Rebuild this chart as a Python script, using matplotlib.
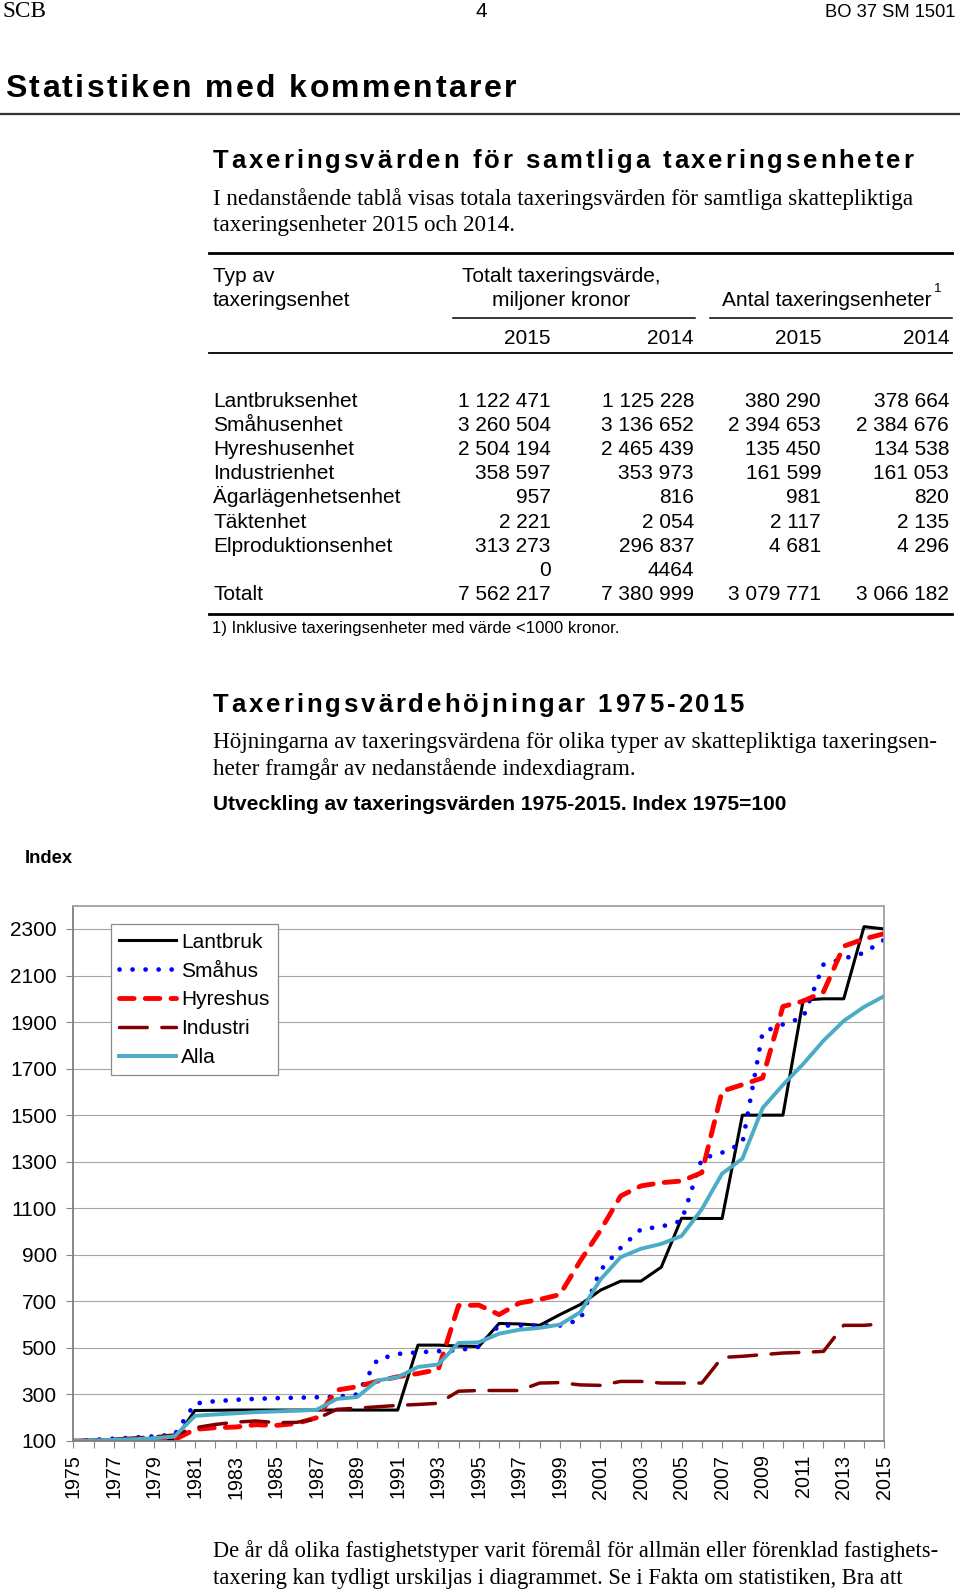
import matplotlib
matplotlib.use('Agg')
import matplotlib.pyplot as plt

plt.rcParams['font.family'] = 'Liberation Sans'

W, H = 960, 1593

# Index 1975=100, values
years = list(range(1975, 2016))
lantbruk = [100, 100, 101, 102, 103, 105,
            231, 232, 233, 233, 233, 233, 233, 233, 233, 233, 233,
            512, 512, 508, 506,
            605, 603, 597, 643, 686,
            748, 787, 787, 847, 1057,
            1056, 1056, 1500, 1500, 1500,
            1995, 2000, 2000, 2310, 2300]
smahus = [100, 105, 110, 115, 120, 128,
          261, 271, 277, 281, 284, 286, 288, 290, 300, 450, 474,
          481, 486, 490, 505,
          596, 596, 596, 596, 621,
          834, 930, 1010, 1021, 1046,
          1313, 1339, 1379, 1857, 1890,
          1920, 2147, 2173, 2197, 2254]
hyreshus = [100, 101, 102, 103, 104, 106,
            150, 157, 160, 170, 167, 175, 200, 319, 333, 357, 376,
            390, 407, 682, 684,
            643, 693, 708, 729, 873,
            1005, 1153, 1196, 1210, 1217,
            1253, 1603, 1631, 1660, 1967,
            1990, 2030, 2226, 2257, 2280]
industri = [100, 104, 108, 113, 118, 126,
            157, 171, 181, 186, 179, 180, 195, 236, 241, 247, 253,
            257, 262, 314, 317,
            317, 317, 349, 351, 341,
            339, 356, 356, 349, 349,
            349, 459, 464, 471, 478,
            481, 485, 597, 597, 604]
alla = [100, 102, 105, 108, 112, 120,
        208, 214, 219, 224, 227, 230, 234, 281, 289, 360, 374,
        418, 429, 521, 524,
        561, 578, 586, 600, 653,
        794, 890, 926, 947, 981,
        1096, 1249, 1313, 1531, 1630,
        1720, 1820, 1905, 1965, 2012]

# table
typer = ["Lantbruksenhet", "Småhusenhet", "Hyreshusenhet", "Industrienhet",
         "Ägarlägenhetsenhet", "Täktenhet", "Elproduktionsenhet", "", "Totalt"]
varde_2015 = ["1 122 471", "3 260 504", "2 504 194", "358 597", "957",
              "2 221", "313 273", "0", "7 562 217"]
varde_2014 = ["1 125 228", "3 136 652", "2 465 439", "353 973", "816",
              "2 054", "296 837", "4464", "7 380 999"]
antal_2015 = ["380 290", "2 394 653", "135 450", "161 599", "981",
              "2 117", "4 681", "", "3 079 771"]
antal_2014 = ["378 664", "2 384 676", "134 538", "161 053", "820",
              "2 135", "4 296", "", "3 066 182"]

fig = plt.figure(figsize=(W / 100, H / 100), dpi=100)
r = fig.canvas.get_renderer()


def txt(x, y, s, size, **kw):
    return fig.text(x / W, 1 - y / H, s, fontsize=size, va='baseline', **kw)


def width(s, size, **kw):
    t = txt(0, 0, s, size, **kw)
    w = t.get_window_extent(r).width
    t.remove()
    return w


def fit(x, y, s, w, size, **kw):
    # pick the font size that gives the measured line width
    t = txt(x, y, s, size, **kw)
    t.set_fontsize(size * w / t.get_window_extent(r).width)
    return t


def spaced(x0, x1, y, s, size):
    # bold heading with wide letter spacing
    base = width('II', size, fontweight='bold')
    adv = [width('I' + c + 'I', size, fontweight='bold') - base for c in s]
    track = (x1 - x0 - sum(adv)) / (len(s) - 1)
    x = x0
    for c, a in zip(s, adv):
        txt(x, y, c, size, fontweight='bold')
        x += a + track


def hline(x0, x1, y, lw, c='black'):
    fig.add_artist(plt.Line2D([x0 / W, x1 / W], [1 - y / H] * 2, color=c, lw=lw))


serif = 'Liberation Serif'

# page header
fit(3, 17, 'SCB', 44, 16, family=serif)
txt(481, 17, '4', 15, ha='center')
fit(955, 17, 'BO 37 SM 1501', 131, 14, ha='right')

spaced(5, 516, 97, 'Statistiken med kommentarer', 23)
hline(0, 960, 114, 1.6, '#333333')

spaced(213, 913, 168, 'Taxeringsvärden för samtliga taxeringsenheter', 18.5)
t = fit(213, 204.5, 'I nedanstående tablå visas totala taxeringsvärden för samtliga skattepliktiga',
        698, 15.5, family=serif)
txt(213, 231.5, 'taxeringsenheter 2015 och 2014.', t.get_fontsize(), family=serif)

# table
fs = 15
hline(209, 952, 252.7, 2.0)
txt(213, 281.7, 'Typ av', fs)
txt(213, 305.7, 'taxeringsenhet', fs)
txt(561, 281.7, 'Totalt taxeringsvärde,', fs, ha='center')
txt(561, 305.7, 'miljoner kronor', fs, ha='center')
t = txt(722.5, 305.7, 'Antal taxeringsenheter', fs)
txt(t.get_window_extent(r).x1 + 1.5, 292, '1', 9.5)
hline(453, 695, 317.7, 1.1)
hline(710, 952, 317.7, 1.1)
cols = [550.5, 694, 821, 949]
for xc, yr in zip(cols, ['2015', '2014', '2015', '2014']):
    txt(xc, 344, yr, fs, ha='right')
hline(209, 952, 353.3, 1.3)
for i, lab in enumerate(typer):
    y = 406.7 + i * 24.17
    txt(213, y, lab, fs)
    for xc, col in zip(cols, [varde_2015, varde_2014, antal_2015, antal_2014]):
        txt(xc, y, col[i], fs, ha='right')
hline(209, 952, 614, 2.0)
fit(212, 633.3, '1) Inklusive taxeringsenheter med värde <1000 kronor.', 406, 12)

# second section
spaced(213, 744, 711.7, 'Taxeringsvärdehöjningar 1975-2015', 18.5)
t = fit(213, 747.7, 'Höjningarna av taxeringsvärdena för olika typer av skattepliktiga taxeringsen-',
        721, 15.5, family=serif)
txt(213, 775, 'heter framgår av nedanstående indexdiagram.', t.get_fontsize(), family=serif)
fit(213, 810, 'Utveckling av taxeringsvärden 1975-2015. Index 1975=100', 574, 15, fontweight='bold')
fit(24.5, 862.7, 'Index', 48, 14, fontweight='bold')

t = fit(213, 1557, 'De år då olika fastighetstyper varit föremål för allmän eller förenklad fastighets-',
        724, 15.5, family=serif)
txt(213, 1584, 'taxering kan tydligt urskiljas i diagrammet. Se i Fakta om statistiken, Bra att',
    t.get_fontsize(), family=serif)

# chart
ax = fig.add_axes([73.3 / W, 1 - 1441 / H, 811 / W, 535.3 / H])
ax.plot(years, lantbruk, color='black', lw=2.2, label='Lantbruk')
ax.plot(years, smahus, color='#0000ff', lw=3.4, linestyle=(0, (0.01, 2.75)),
        dash_capstyle='round', label='Småhus')
ax.plot(years, hyreshus, color='#ff0000', lw=3.5, linestyle=(0, (3.0, 2.3)),
        dash_capstyle='round', label='Hyreshus')
ax.plot(years, industri, color='#800000', lw=2.5, linestyle=(0, (8, 4.2)),
        dash_capstyle='round', label='Industri')
ax.plot(years, alla, color='#4bacc6', lw=2.8, label='Alla')

ax.set_xlim(1975, 2015)
ax.set_ylim(100, 2400)
ax.set_yticks(range(100, 2400, 200))
ax.set_xticks(years)
ax.set_xticklabels([str(y) if (y - 1975) % 2 == 0 else '' for y in years], rotation=90)
ax.tick_params(axis='y', labelsize=15, length=5, pad=7, color='#868686')
ax.tick_params(axis='x', labelsize=14.2, length=5, pad=4.8, color='#868686')
ax.grid(axis='y', color='#a6a6a6', lw=0.8)
ax.set_axisbelow(True)
for side in ['left', 'bottom']:
    ax.spines[side].set_color('#7f7f7f')
    ax.spines[side].set_linewidth(1.3)
for side in ['top', 'right']:
    ax.spines[side].set_color('#a0a0a0')
    ax.spines[side].set_linewidth(1.3)

leg = ax.legend(loc='upper left', bbox_to_anchor=(0.0465, 0.965), fontsize=15,
                fancybox=False, edgecolor='#8c8c8c', framealpha=1, borderaxespad=0,
                handlelength=2.7, handletextpad=0.25, borderpad=0.4, labelspacing=0.47)
leg.get_frame().set_linewidth(0.9)

fig.savefig('out.png', dpi=100)
